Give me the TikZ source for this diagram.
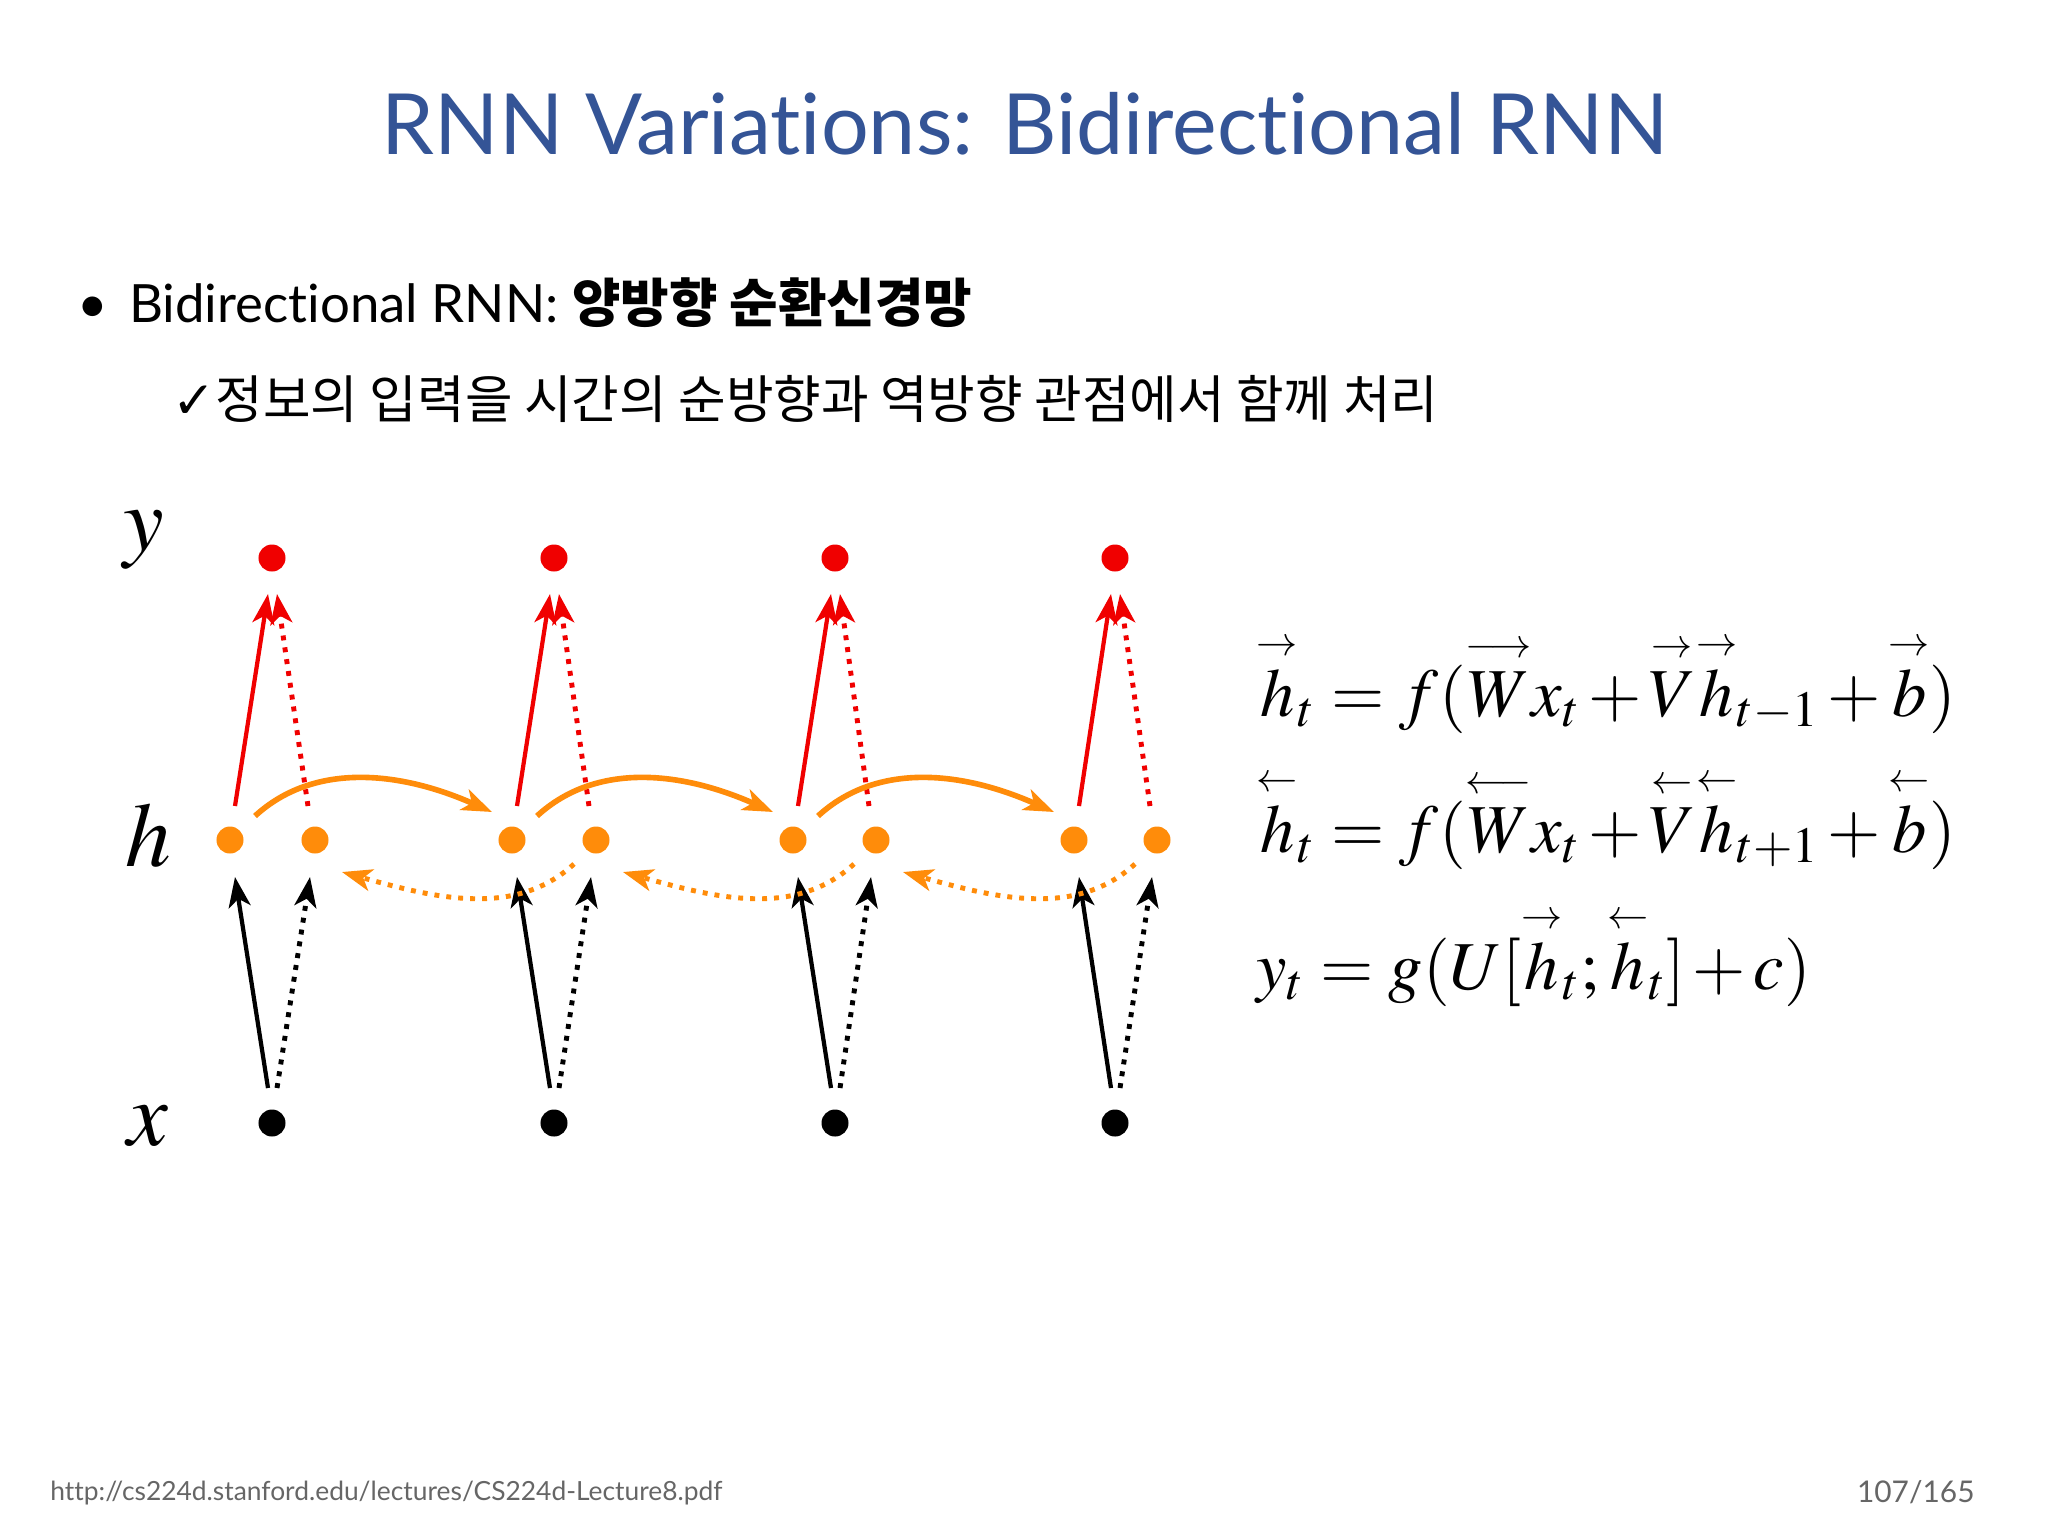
\documentclass[tikz,border=0pt]{standalone}
\usepackage{amsmath}
\usepackage{mathptmx}
\usepackage{fontspec}
\setmainfont{Lato}[Ligatures=NoCommon]
\newfontfamily\kr{Noto Sans CJK KR}
\usetikzlibrary{arrows.meta,calc}
\definecolor{ttl}{RGB}{52,84,150}
\definecolor{org}{RGB}{255,140,10}
\definecolor{rd}{RGB}{240,0,0}
\newcommand{\fw}[1]{\overset{\scriptscriptstyle\rightarrow}{#1}}
\newcommand{\bw}[1]{\overset{\scriptscriptstyle\leftarrow}{#1}}
\newcommand{\fwl}[1]{\overset{\scriptscriptstyle\longrightarrow}{#1}}
\newcommand{\bwl}[1]{\overset{\scriptscriptstyle\longleftarrow}{#1}}
\newcommand{\tightmath}{\thickmuskip=4mu\relax\medmuskip=2mu\relax}
\begin{document}
\begin{tikzpicture}[x=0.01cm,y=-0.01cm,
  dot/.style={circle,inner sep=0,minimum size=0.27cm},
  tip/.style={-{Stealth[length=0.3cm,width=0.22cm,inset=0.08cm]}},
  dotl/.style={dotted,line width=1.4pt},
  sol/.style={line width=1.2pt}]
\useasboundingbox[fill=white] (0,0) rectangle (2048,1536);
\node[ttl,font=\fontsize{24}{28}\selectfont] (title) at (1025,124) {RNN Variations: Bidirectional RNN};
\node[anchor=base west,font=\fontsize{15}{18}\selectfont] (b1) at (65,322) {\textbullet\hspace{0.4em}Bidirectional RNN: {\kr\bfseries 양방향 순환신경망}};
\node[anchor=base west,font=\fontsize{14.7}{18}\selectfont] (b2) at (160,418) {{\fontspec{DejaVu Sans}✓}{\kr 정보의 입력을 시간의 순방향과 역방향 관점에서 함께 처리}};
\node[font=\fontsize{26}{28}\selectfont] (ly) at (144,540) {$y$};
\node[font=\fontsize{26}{28}\selectfont] (lh) at (148,836) {$h$};
\node[font=\fontsize{26}{28}\selectfont] (lx) at (148,1126) {$x$};
\foreach \i/\c/\a/\b in {1/272/230/315,2/554/512/596,3/835/793/876,4/1115/1074/1157}{
  \node[dot,fill=rd] (y\i) at (\c,558) {};
  \node[dot,fill=org] (hf\i) at (\a,840) {};
  \node[dot,fill=org] (hb\i) at (\b,840) {};
  \node[dot,fill=black] (x\i) at (\c,1123) {};
  \draw[sol,rd,tip] (\a+5,806) -- (\c-4,594);
  \draw[dotl,rd,tip] (\b-7,806) -- (\c+5,594);
  \draw[sol,black,tip] (\c-4,1088) -- (\a+5,877);
  \draw[dotl,black,tip] (\c+5,1088) -- (\b-5,877);
}
\foreach \i/\j in {1/2,2/3,3/4}{
  \draw[sol,line width=1.6pt,org,tip] ($(hf\i)+(25,-24)$) .. controls +(60,-55) and +(-90,-40) .. ($(hf\j)+(-20,-28)$);
  \draw[dotl,org,tip] ($(hb\j)+(-22,24)$) .. controls +(-60,55) and +(90,25) .. ($(hb\i)+(27,32)$);
}
\begin{scope}[font=\fontsize{19.5}{24}\selectfont,inner sep=0pt]
\node[anchor=base west] (e1) at (1256,716) {$\tightmath\fw{h}_t = f(\fwl{W}x_t + \fw{V}\fw{h}_{t-1} + \fw{b})$};
\node[anchor=base west] (e2) at (1256,852) {$\tightmath\bw{h}_t = f(\bwl{W}x_t + \bw{V}\bw{h}_{t+1} + \bw{b})$};
\node[anchor=base west] (e3) at (1256,989) {$\tightmath y_t = g(U[\fw{h}_t;\bw{h}_t] + c)$};
\end{scope}
\node[anchor=base west,gray!80!black,font=\fontsize{7.5}{9}\selectfont] (f1) at (38,1500) {http://cs224d.stanford.edu/lectures/CS224d-Lecture8.pdf};
\node[anchor=base east,gray!80!black,font=\fontsize{8.5}{9}\selectfont] (f2) at (1987,1502) {107/165};
\end{tikzpicture}
\end{document}
